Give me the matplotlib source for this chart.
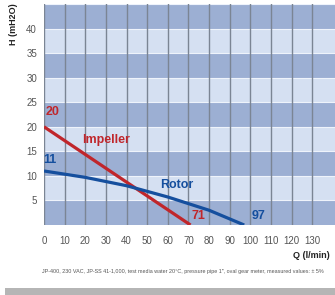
import matplotlib.pyplot as plt
from matplotlib.patches import Rectangle
from matplotlib import font_manager

# pump curves, H (mH2O) over Q (l/min)
impeller_q = [0, 71]
impeller_h = [20, 0]
rotor_q = [0, 20, 40, 60, 80, 97]
rotor_h = [11, 9.7, 8.0, 5.7, 3.0, 0]

x_ticks = list(range(0, 140, 10))
y_ticks = [5, 10, 15, 20, 25, 30, 35, 40]
footer = ("JP-400, 230 VAC, JP-SS 41-1,000, test media water 20°C, pressure pipe 1\", "
          "oval gear meter, measured values: ± 5%")

names = {f.name for f in font_manager.fontManager.ttflist}
narrow = "Liberation Sans Narrow" if "Liberation Sans Narrow" in names else "Liberation Sans"
plt.rcParams["font.family"] = [narrow, "DejaVu Sans"]

red = "#c0262b"
blue = "#154f9e"
dark_band = "#9cafd3"
light_band = "#d5e0f2"

fig = plt.figure(figsize=(3.35, 2.95), dpi=100)
ax = fig.add_axes([44 / 335, 1 - 225 / 295, 1 - 44 / 335, 221 / 295])
ax.set_xlim(0, 141)
ax.set_ylim(0, 45)

# alternating horizontal bands every 5 m
for i, lo in enumerate(range(0, 45, 5)):
    ax.axhspan(lo, lo + 5, color=dark_band if i % 2 == 0 else light_band, zorder=0, lw=0)
    ax.axhline(lo + 5, color="#eef3fb", lw=0.8, zorder=1)
for x in x_ticks:
    ax.axvline(x, color="#7b8594", lw=1.0, zorder=1)

ax.plot(impeller_q, impeller_h, color=red, lw=2.3, zorder=3, solid_capstyle="butt")
ax.plot(rotor_q, rotor_h, color=blue, lw=2.3, zorder=3, solid_capstyle="butt")

lab = dict(fontweight="bold", fontsize=9, ha="center", va="center", zorder=4)
ax.text(4, 23.1, "20", color=red, **lab)
ax.text(30, 17.3, "Impeller", color=red, **lab)
ax.text(3, 13.3, "11", color=blue, **lab)
ax.text(64.5, 8.2, "Rotor", color=blue, **lab)
ax.text(75, 1.8, "71", color=red, **lab)
ax.text(104, 1.8, "97", color=blue, **lab)

for s in ax.spines.values():
    s.set_visible(False)
ax.set_xticks(x_ticks)
ax.set_yticks(y_ticks)
ax.tick_params(axis="x", length=0, labelsize=7, colors="#555555", pad=8)
ax.tick_params(axis="y", length=0, labelsize=7, colors="#555555", pad=5)

fig.text(14 / 335, 1 - 24 / 295, "H (mH2O)", rotation=90, ha="center", va="center",
         fontsize=6.5, fontweight="bold", color="#222222")
fig.text(330 / 335, 1 - 255 / 295, "Q (l/min)", ha="right", va="center",
         fontsize=6.5, fontweight="bold", color="#222222")
fig.text(42 / 335, 1 - 272 / 295, footer, ha="left", va="center", fontsize=3.9,
         color="#555555")

# grey shadow strip along the bottom edge
fig.patches.append(Rectangle((5 / 335, 0), 1, 7 / 295, transform=fig.transFigure,
                             color="#b5b5b5", lw=0))

fig.savefig("out.png", dpi=100)
